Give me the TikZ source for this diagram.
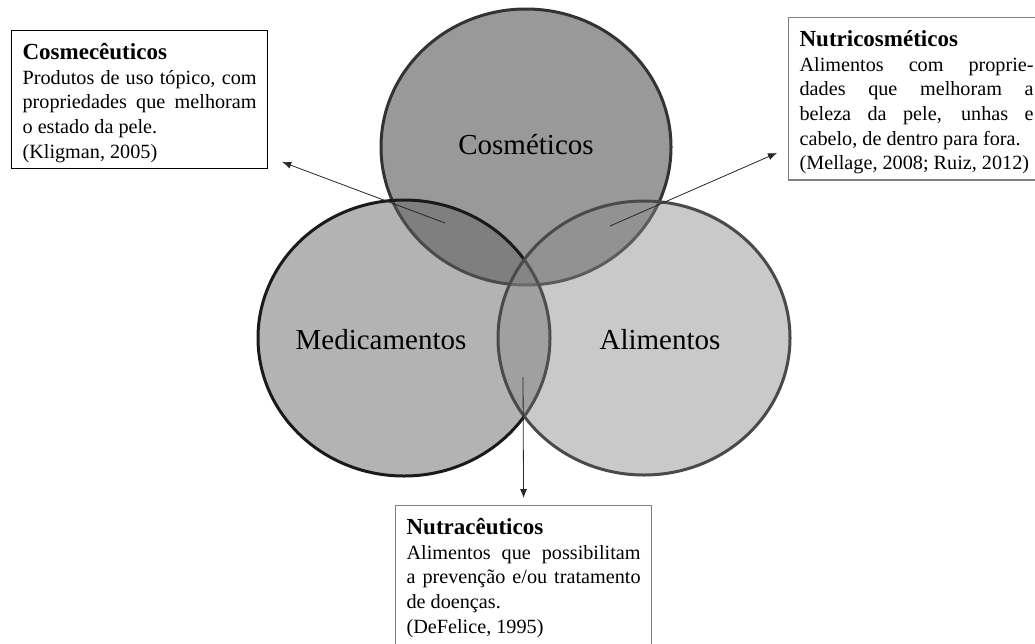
\documentclass[tikz,border=0pt]{standalone}
\usepackage{fontspec}
\setmainfont{Liberation Serif}
\usepackage{tikz}
\usetikzlibrary{arrows.meta,positioning,calc}
\usepackage{xcolor}

\definecolor{cosfill}{HTML}{999999}
\definecolor{cosline}{HTML}{333333}
\definecolor{medfill}{HTML}{646464}
\definecolor{medline}{HTML}{1A1A1A}
\definecolor{alifill}{HTML}{8C8C8C}
\definecolor{aliline}{HTML}{4A4A4A}

\newcommand{\notetitle}[1]{{\fontsize{23}{26}\selectfont\bfseries\rule{0pt}{23pt}#1}\\}

\begin{document}
\begin{tikzpicture}[
    x=1pt, y=-1pt,
    every node/.style={font=\fontsize{20.2}{24.6}\selectfont},
    setname/.style={font=\fontsize{29}{34}\selectfont},
    note/.style={draw, line width=1.2pt, anchor=north west, text width=234pt, inner xsep=11pt, inner ysep=6pt, align=justify},
    link/.style={-{Latex[length=9pt,width=7pt]}, line width=0.8pt, draw=black!85}
]
    \useasboundingbox (0,0) rectangle (1035,643);

    % the three sets
    \filldraw[fill=cosfill, draw=cosline, line width=3pt] (526,147) ellipse [x radius=145, y radius=138];
    \filldraw[fill=medfill, fill opacity=0.49, draw=medline, line width=3pt] (404,338) ellipse [x radius=146, y radius=138];
    \filldraw[fill=alifill, fill opacity=0.47, draw=aliline, line width=3pt] (644,338) ellipse [x radius=146, y radius=137];

    \node (cosmeticos) [setname] at (526,145) {Cosméticos};
    \node (medicamentos) [setname] at (381,340) {Medicamentos};
    \node (alimentos) [setname] at (660,340) {Alimentos};

    % definitions
    \node (cosmeceuticos) [note] at (11,30) {\notetitle{Cosmecêuticos} Produtos de uso tópico, com\linebreak propriedades que melhoram\linebreak o estado da pele.\\ (Kligman, 2005)};
    \node (nutricosmeticos) [note, draw=black!50] at (788,17) {\notetitle{Nutricosméticos} Alimentos com proprie-\linebreak dades que melhoram a\linebreak beleza da pele, unhas e\linebreak cabelo, de dentro para fora.\\ (Mellage, 2008; Ruiz, 2012)};
    \node (nutraceuticos) [note, draw=black!50] at (395,505) {\notetitle{Nutracêuticos} Alimentos que possibilitam\linebreak a prevenção e/ou tratamento\linebreak de doenças.\\ (DeFelice, 1995)\rule[-16pt]{0pt}{1pt}};

    \coordinate (cosmed) at (445,223);
    \coordinate (cosali) at (610,226);
    \coordinate (medali) at (523,377);

    \draw[link, shorten >=15pt] (cosmed) -- (cosmeceuticos.-24);
    \draw[link, shorten >=12pt] (cosali) -- (nutricosmeticos.201);
    \draw[link, shorten >=7pt] (medali) -- (nutraceuticos.north);
\end{tikzpicture}
\end{document}
